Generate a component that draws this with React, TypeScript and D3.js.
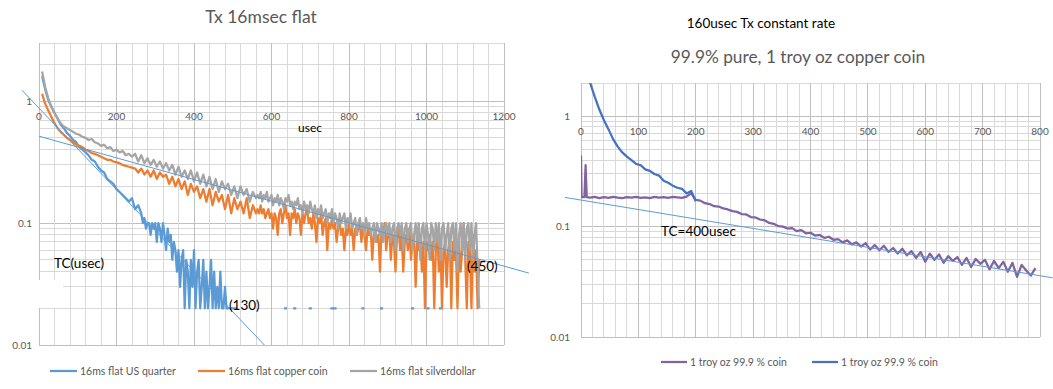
import React from 'react';
import * as d3 from 'd3';

const W = 1053;
const H = 389;

// ---- left chart: Tx 16msec flat ----
// head arrays: every 8 usec from 8; tail arrays: every 4 usec (dense noise)
const quarterHead = [
  1.6, 1.25, 1.02, 0.9, 0.8, 0.72, 0.64, 0.6, 0.55, 0.52,
  0.48, 0.46, 0.42, 0.4, 0.38, 0.36, 0.33, 0.32, 0.29, 0.27,
  0.26, 0.23, 0.22, 0.21, 0.19, 0.18, 0.17, 0.16, 0.15, 0.16,
  0.13, 0.14,
]; // 8..256
const quarterTail = [
  0.13, 0.12, 0.1, 0.11, 0.09, 0.1, 0.1, 0.08, 0.1, 0.09, 0.1, 0.07,
  0.1, 0.09, 0.07, 0.1, 0.08, 0.06, 0.09, 0.07, 0.08, 0.05, 0.07, 0.06,
  0.04, 0.06, 0.03, 0.05, 0.06, 0.02, 0.05, 0.04, 0.02, 0.05, 0.03, 0.06,
  0.02, 0.04, 0.05, 0.02, 0.03, 0.05, 0.02, 0.04, 0.02, 0.03, 0.05, 0.02,
  0.04, 0.02, 0.03, 0.02, 0.04, 0.02, 0.02, 0.03, 0.02, 0.02, 0.02, 0.02,
  0.02, 0.02, 0.02, 0.02,
]; // 260..512
const quarterDots = [
  0, 0, 0, 0, 0, 0, 0, 0, 0, 0,
  0, 0, 0, 0, 0.02, 0.02, 0, 0.02, 0.02, 0,
  0, 0, 0.02, 0.02, 0, 0, 0, 0, 0, 0.02,
  0.02, 0.02, 0, 0, 0, 0, 0, 0, 0, 0.02,
  0.02, 0, 0, 0, 0, 0.02, 0.02, 0, 0, 0,
  0, 0, 0, 0, 0, 0.02, 0.02, 0, 0, 0,
  0.02, 0.02, 0, 0, 0.02, 0.02,
]; // 520..1040, zeros are not drawn on the log axis

const copperHead = [
  1.15, 0.95, 0.84, 0.74, 0.66, 0.6, 0.56, 0.53, 0.5, 0.48,
  0.46, 0.44, 0.43, 0.42, 0.4, 0.39, 0.375, 0.37, 0.36, 0.35,
  0.34, 0.33, 0.33, 0.32, 0.315, 0.31, 0.3, 0.295, 0.29, 0.285,
  0.28, 0.26, 0.28, 0.25, 0.27, 0.24, 0.27, 0.23, 0.26, 0.24,
  0.25, 0.21, 0.24, 0.2, 0.23, 0.19, 0.22, 0.17, 0.21, 0.18,
  0.2, 0.16, 0.19, 0.15, 0.19, 0.14, 0.18, 0.15, 0.17, 0.13,
  0.17, 0.12, 0.16, 0.13, 0.15, 0.12, 0.16, 0.11, 0.14, 0.12,
]; // 8..560
const copperTail = [
  0.13, 0.12, 0.14, 0.12, 0.13, 0.11, 0.12, 0.13, 0.11, 0.12, 0.09, 0.12,
  0.11, 0.08, 0.12, 0.13, 0.1, 0.12, 0.14, 0.11, 0.12, 0.08, 0.12, 0.11,
  0.13, 0.1, 0.12, 0.11, 0.08, 0.12, 0.1, 0.12, 0.13, 0.1, 0.11, 0.09,
  0.12, 0.1, 0.07, 0.11, 0.1, 0.12, 0.08, 0.1, 0.11, 0.06, 0.1, 0.09,
  0.11, 0.09, 0.1, 0.07, 0.09, 0.1, 0.08, 0.09, 0.06, 0.09, 0.08, 0.1,
  0.08, 0.09, 0.06, 0.09, 0.08, 0.09, 0.1, 0.07, 0.09, 0.08, 0.06, 0.09,
  0.08, 0.09, 0.05, 0.08, 0.09, 0.07, 0.08, 0.04, 0.09, 0.08, 0.1, 0.06,
  0.08, 0.09, 0.05, 0.08, 0.07, 0.04, 0.08, 0.09, 0.06, 0.08, 0.04, 0.07,
  0.08, 0.06, 0.09, 0.05, 0.07, 0.08, 0.03, 0.07, 0.06, 0.08, 0.04, 0.07,
  0.02, 0.07, 0.06, 0.08, 0.05, 0.07, 0.02, 0.06, 0.08, 0.04, 0.07, 0.02,
  0.06, 0.07, 0.03, 0.06, 0.08, 0.02, 0.07, 0.05, 0.06, 0.02, 0.07, 0.04,
  0.06, 0.1, 0.05, 0.02, 0.07, 0.06, 0.02, 0.08, 0.04, 0.06, 0.02, 0.05,
]; // 564..1136

const silverHead = [
  1.75, 1.3, 1.05, 0.9, 0.8, 0.72, 0.66, 0.62, 0.6, 0.58,
  0.56, 0.54, 0.53, 0.51, 0.5, 0.48, 0.49, 0.46, 0.45, 0.43,
  0.44, 0.41, 0.42, 0.39, 0.4, 0.38, 0.39, 0.36, 0.37, 0.35,
  0.37, 0.32, 0.36, 0.31, 0.34, 0.3, 0.33, 0.29, 0.32, 0.28,
  0.31, 0.27, 0.3, 0.25, 0.29, 0.24, 0.27, 0.23, 0.27, 0.22,
  0.26, 0.21, 0.25, 0.2, 0.24, 0.19, 0.23, 0.18, 0.22, 0.19,
  0.21, 0.17, 0.2, 0.16, 0.2, 0.17, 0.19, 0.15, 0.18, 0.16,
]; // 8..560
const silverTail = [
  0.17, 0.16, 0.18, 0.15, 0.17, 0.16, 0.18, 0.15, 0.16, 0.17, 0.14, 0.16,
  0.15, 0.17, 0.14, 0.16, 0.15, 0.13, 0.16, 0.15, 0.17, 0.14, 0.15, 0.13,
  0.15, 0.14, 0.16, 0.13, 0.14, 0.12, 0.15, 0.13, 0.14, 0.12, 0.15, 0.13,
  0.12, 0.14, 0.11, 0.13, 0.12, 0.14, 0.11, 0.12, 0.13, 0.1, 0.12, 0.11,
  0.13, 0.1, 0.12, 0.11, 0.09, 0.12, 0.1, 0.11, 0.12, 0.09, 0.11, 0.1,
  0.12, 0.09, 0.1, 0.11, 0.08, 0.1, 0.11, 0.09, 0.1, 0.08, 0.11, 0.09,
  0.1, 0.08, 0.09, 0.1, 0.07, 0.1, 0.09, 0.08, 0.1, 0.07, 0.09, 0.1,
  0.08, 0.1, 0.07, 0.09, 0.1, 0.06, 0.09, 0.1, 0.08, 0.1, 0.06, 0.09,
  0.1, 0.07, 0.09, 0.1, 0.06, 0.08, 0.1, 0.07, 0.1, 0.05, 0.09, 0.1,
  0.06, 0.1, 0.08, 0.05, 0.1, 0.09, 0.06, 0.1, 0.07, 0.1, 0.05, 0.09,
  0.1, 0.06, 0.08, 0.1, 0.05, 0.09, 0.1, 0.06, 0.1, 0.04, 0.08, 0.1,
  0.06, 0.1, 0.05, 0.09, 0.1, 0.06, 0.1, 0.05, 0.08, 0.1, 0.04, 0.02,
]; // 564..1136

const leftNames = ['16ms flat US quarter', '16ms flat copper coin', '16ms flat silverdollar'];
const leftColors = ['#5B9BD5', '#ED7D31', '#A5A5A5'];
// exponential trendlines: a * exp(-t / tc), drawn from..to (usec)
const leftTrends = [
  { a: 0.877, tc: 130, from: -44, to: 582 },
  { a: 0.516, tc: 489, from: 0, to: 1264 },
];

// ---- right chart: 160usec Tx constant rate ----
const troyHead: [number, number][] = [[0, 0.44], [1, 0.185], [6, 0.185], [8, 0.36], [10, 0.185]];
const troyPurple = [
  0.183, 0.186, 0.181, 0.185, 0.182, 0.186, 0.183, 0.181, 0.185, 0.183,
  0.186, 0.182, 0.184, 0.181, 0.186, 0.183, 0.185, 0.182, 0.186, 0.184,
  0.182, 0.187, 0.2, 0.175, 0.172, 0.163, 0.16, 0.153, 0.152, 0.146,
  0.143, 0.138, 0.136, 0.13, 0.129, 0.122, 0.121, 0.116, 0.114, 0.108,
  0.106, 0.101, 0.1, 0.096, 0.097, 0.091, 0.093, 0.087, 0.088, 0.083,
  0.084, 0.079, 0.081, 0.076, 0.077, 0.072, 0.075, 0.069, 0.072, 0.066,
  0.071, 0.062, 0.068, 0.061, 0.067, 0.059, 0.064, 0.057, 0.063, 0.055,
  0.06, 0.052, 0.059, 0.048, 0.057, 0.05, 0.056, 0.047, 0.054, 0.049,
  0.053, 0.045, 0.052, 0.043, 0.051, 0.046, 0.05, 0.041, 0.049, 0.042,
  0.048, 0.039, 0.047, 0.035, 0.045, 0.04, 0.036, 0.042,
]; // 16..792 every 8
const troyBlue = [
  2.6, 2.0, 1.5, 1.15, 0.92, 0.76, 0.62, 0.53, 0.47, 0.43,
  0.4, 0.37, 0.36, 0.33, 0.32, 0.3, 0.29, 0.26, 0.25, 0.235,
  0.225, 0.22, 0.2, 0.21, 0.17,
]; // 8..200 every 8
const rightNames = ['1 troy oz 99.9 % coin', '1 troy oz 99.9 % coin'];
const rightColors = ['#8064A2', '#4472C4'];
const rightTrend = { a: 0.174, tc: 507, from: -28, to: 822 };

const FONT = 'Lato, "Open Sans", sans-serif';
const GRID = '#D9D9D9';
const GRID_MAJOR = '#BFBFBF';
const TXT = '#595959';

type Pt = [number, number];
const toPts = (vals: number[], start: number, step: number): Pt[] =>
  vals.map((v, i) => [start + i * step, v]);

function Grid({ x, y, xMinorStep }: { x: d3.ScaleLinear<number, number>; y: d3.ScaleLogarithmic<number, number>; xMinorStep: number }) {
  const [x0, x1] = x.domain();
  const [y0, y1] = y.domain();
  const xs = d3.range(x0, x1 + 0.001, xMinorStep);
  const majors = x.ticks(8);
  const ys = y.ticks().filter((v) => v >= y0 && v <= y1 * 1.0001);
  const isPow = (v: number) => Math.abs(Math.log10(v) - Math.round(Math.log10(v))) < 1e-6;
  return (
    <g shapeRendering="crispEdges">
      {ys.map((v) => (
        <line key={'h' + v} x1={x.range()[0]} x2={x.range()[1]} y1={y(v)} y2={y(v)} stroke={isPow(v) ? GRID_MAJOR : GRID} />
      ))}
      {xs.map((v) => (
        <line key={'v' + v} x1={x(v)} x2={x(v)} y1={y.range()[0]} y2={y.range()[1]} stroke={majors.includes(v) ? GRID_MAJOR : GRID} />
      ))}
    </g>
  );
}

function Axes({ x, y, xTickCount, xLabelDy, yLabelGap }: { x: d3.ScaleLinear<number, number>; y: d3.ScaleLogarithmic<number, number>; xTickCount: number; xLabelDy: number; yLabelGap: number }) {
  const yMajors = [1, 0.1, 0.01];
  return (
    <g fontFamily={FONT} fontSize={10} fill={TXT}>
      <line x1={x.range()[0]} x2={x.range()[1]} y1={y(1)} y2={y(1)} stroke={GRID_MAJOR} shapeRendering="crispEdges" />
      {x.ticks(xTickCount).map((t) => (
        <text key={t} x={x(t)} y={y(1) + xLabelDy} textAnchor="middle">{t}</text>
      ))}
      {yMajors.map((t) => (
        <text key={t} x={x.range()[0] - yLabelGap} y={y(t)} dy="0.35em" textAnchor="end">{t}</text>
      ))}
    </g>
  );
}

export default function App() {
  // left scales
  const lx = d3.scaleLinear().domain([0, 1200]).range([39, 504]);
  const ly = d3.scaleLog().domain([0.01, 3]).range([345, 43]);
  // right scales
  const rx = d3.scaleLinear().domain([0, 800]).range([581, 1040]);
  const ry = d3.scaleLog().domain([0.01, 2]).range([337, 83]);

  const lLine = d3.line<Pt>().defined((d) => d[1] > 0).x((d) => lx(d[0])).y((d) => ly(d[1]));
  const rLine = d3.line<Pt>().defined((d) => d[1] > 0).x((d) => rx(d[0])).y((d) => ry(d[1]));

  const leftSeries = [
    [...toPts(quarterHead, 8, 8), ...toPts(quarterTail, 260, 4), ...toPts(quarterDots, 520, 8)],
    [...toPts(copperHead, 8, 8), ...toPts(copperTail, 564, 4)],
    [...toPts(silverHead, 8, 8), ...toPts(silverTail, 564, 4)],
  ];
  const rightSeries = [troyHead.concat(toPts(troyPurple, 16, 8)), toPts(troyBlue, 8, 8)];

  const trendPts = (t: { a: number; tc: number; from: number; to: number }): Pt[] =>
    [t.from, t.to].map((u) => [u, t.a * Math.exp(-u / t.tc)] as Pt);

  return (
    <svg width={W} height={H} style={{ position: 'absolute', left: 0, top: 0, background: '#fff' }}>
      <defs>
        <clipPath id="clipL"><rect x={39} y={43} width={465} height={302} /></clipPath>
        <clipPath id="clipR"><rect x={581} y={83} width={459} height={254} /></clipPath>
      </defs>
      <rect width={W} height={H} fill="#fff" />

      {/* left chart */}
      <text x={261} y={23} textAnchor="middle" fontFamily={FONT} fontSize={17.5} fill={TXT}>Tx 16msec flat</text>
      <Grid x={lx} y={ly} xMinorStep={40} />
      <Axes x={lx} y={ly} xTickCount={6} xLabelDy={19} yLabelGap={7} />
      <rect x={20} y={280} width={43} height={28} fill="#fff" />
      <g clipPath="url(#clipL)" fill="none" strokeWidth={2.25} strokeLinejoin="round">
        {leftSeries.map((s, i) => (
          <path key={i} d={lLine(s) || ''} stroke={leftColors[i]} />
        ))}
      </g>
      {leftTrends.map((t, i) => (
        <path key={i} d={lLine(trendPts(t)) || ''} stroke="#5B9BD5" strokeWidth={1} fill="none" />
      ))}
      <g fontFamily={FONT} fill="#000">
        <text x={310} y={132} fontSize={12} textAnchor="middle">usec</text>
        <text x={54} y={268} fontSize={13.5}>TC(usec)</text>
        <text x={467} y={271} fontSize={13.5}>(450)</text>
        <text x={229} y={310} fontSize={13.5}>(130)</text>
      </g>
      <g fontFamily={FONT} fontSize={10.5} fill={TXT}>
        {leftNames.map((n, i) => {
          const lx0 = [50, 198, 350][i];
          return (
            <g key={n}>
              <line x1={lx0} x2={lx0 + 27} y1={371} y2={371} stroke={leftColors[i]} strokeWidth={2.25} />
              <text x={lx0 + 30} y={371} dy="0.35em">{n}</text>
            </g>
          );
        })}
      </g>

      {/* right chart */}
      <text x={761} y={28} textAnchor="middle" fontFamily={FONT} fontSize={13.5} fill="#000">160usec Tx constant rate</text>
      <text x={798} y={63} textAnchor="middle" fontFamily={FONT} fontSize={17.3} fill={TXT}>99.9% pure, 1 troy oz copper coin</text>
      <Grid x={rx} y={ry} xMinorStep={20} />
      <Axes x={rx} y={ry} xTickCount={8} xLabelDy={19} yLabelGap={11} />
      <g clipPath="url(#clipR)" fill="none" strokeWidth={2.25} strokeLinejoin="round">
        {rightSeries.map((s, i) => (
          <path key={i} d={rLine(s) || ''} stroke={rightColors[i]} />
        ))}
      </g>
      <path d={rLine(trendPts(rightTrend)) || ''} stroke="#5B9BD5" strokeWidth={1} fill="none" />
      <text x={661} y={236} fontFamily={FONT} fontSize={13.5} fill="#000">TC=400usec</text>
      <g fontFamily={FONT} fontSize={10.5} fill={TXT}>
        {rightNames.map((n, i) => {
          const lx0 = [661, 812][i];
          return (
            <g key={i}>
              <line x1={lx0} x2={lx0 + 26} y1={362} y2={362} stroke={rightColors[i]} strokeWidth={2.25} />
              <text x={lx0 + 29} y={362} dy="0.35em">{n}</text>
            </g>
          );
        })}
      </g>
    </svg>
  );
}
